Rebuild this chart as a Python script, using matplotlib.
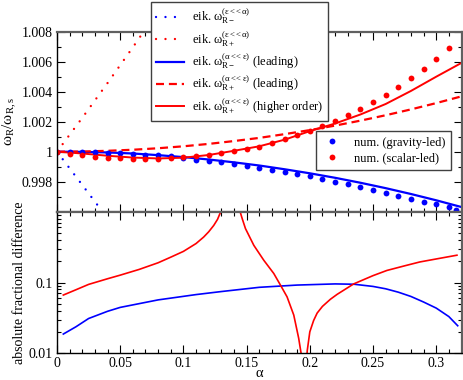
import matplotlib
matplotlib.use('Agg')
import matplotlib.pyplot as plt
from matplotlib.ticker import FixedLocator, MultipleLocator, LogLocator, NullFormatter
from matplotlib.lines import Line2D

plt.rcParams['font.family'] = ['Liberation Serif', 'DejaVu Serif']
plt.rcParams['mathtext.fontset'] = 'stix'
plt.rcParams['font.size'] = 10

# --- top panel: omega_R / omega_R,s ---
alpha_eps = [0.0, 0.02, 0.04, 0.06, 0.08]
eik_minus_eps = [1.0, 0.99778, 0.99556, 0.99334, 0.99112]
eik_plus_eps = [1.0, 1.00226, 1.00458, 1.00696, 1.0094]

alpha_line = [0.0, 0.02, 0.04, 0.06, 0.08, 0.10, 0.12, 0.14, 0.16, 0.18,
              0.20, 0.22, 0.24, 0.26, 0.28, 0.30, 0.32]
eik_minus_lead = [1.0, 0.99999, 0.99995, 0.99988, 0.99977, 0.99964, 0.99948,
                  0.99929, 0.99908, 0.99883, 0.99856, 0.99826, 0.99793,
                  0.99757, 0.99718, 0.99676, 0.99631]
eik_plus_lead = [1.0, 1.00001, 1.00006, 1.00013, 1.00023, 1.00036, 1.00052,
                 1.00071, 1.00092, 1.00117, 1.00144, 1.00174, 1.00207,
                 1.00243, 1.00282, 1.00324, 1.00369]
eik_plus_high = [1.0, 0.99988, 0.99973, 0.99961, 0.99955, 0.9996, 0.99978,
                 1.00006, 1.00036, 1.0008, 1.00137, 1.00188, 1.00248,
                 1.00318, 1.00405, 1.005, 1.00592]

alpha_num_g = [0.0, 0.01, 0.02, 0.03, 0.04, 0.05, 0.06, 0.07, 0.08, 0.09,
               0.10, 0.11, 0.12, 0.13, 0.14, 0.15, 0.16, 0.17, 0.18, 0.19,
               0.20, 0.21, 0.22, 0.23, 0.24, 0.25, 0.26, 0.27, 0.28, 0.29,
               0.30, 0.31, 0.316]
num_gravity = [1.0, 1.0, 0.99999, 0.99995, 0.99991, 0.99989, 0.99985, 0.9998,
               0.99975, 0.99969, 0.99958, 0.99947, 0.9994, 0.99929, 0.99918,
               0.99906, 0.99894, 0.9988, 0.99866, 0.99852, 0.99837, 0.9982,
               0.998, 0.99782, 0.99765, 0.99745, 0.99727, 0.99707, 0.99687,
               0.99667, 0.99649, 0.99629, 0.99611]

alpha_num_s = [0.0, 0.01, 0.02, 0.03, 0.04, 0.05, 0.06, 0.07, 0.08, 0.09,
               0.10, 0.11, 0.12, 0.13, 0.14, 0.15, 0.16, 0.17, 0.18, 0.19,
               0.20, 0.21, 0.22, 0.23, 0.24, 0.25, 0.26, 0.27, 0.28, 0.29,
               0.30, 0.31]
num_scalar = [1.0, 0.99985, 0.99978, 0.99967, 0.9996, 0.99955, 0.99953,
              0.99953, 0.99953, 0.9996, 0.99967, 0.99973, 0.9998, 0.99991,
              1.00002, 1.00015, 1.00033, 1.00058, 1.00082, 1.00109, 1.00138,
              1.0017, 1.00205, 1.00243, 1.00285, 1.00329, 1.0038, 1.00429,
              1.00489, 1.00551, 1.00618, 1.00691]

# --- bottom panel: absolute fractional difference ---
alpha_diff_g = [0.005, 0.015, 0.025, 0.04, 0.05, 0.08, 0.11, 0.13, 0.16, 0.19,
                0.22, 0.235, 0.25, 0.26, 0.27, 0.28, 0.29, 0.30, 0.31, 0.317]
diff_gravity = [0.0187, 0.0237, 0.031, 0.0392, 0.0445, 0.0568, 0.0675, 0.0745,
                0.0855, 0.092, 0.0955, 0.0945, 0.088, 0.0815, 0.073, 0.0635,
                0.053, 0.0435, 0.033, 0.0245]

alpha_diff_s1 = [0.005, 0.015, 0.025, 0.04, 0.05, 0.065, 0.08, 0.09, 0.1,
                 0.11, 0.116, 0.12, 0.124, 0.127, 0.1305]
diff_scalar1 = [0.0665, 0.079, 0.094, 0.113, 0.127, 0.153, 0.19, 0.228, 0.275,
                0.355, 0.438, 0.52, 0.64, 0.78, 1.1]
alpha_diff_s2 = [0.1445, 0.1465, 0.1491, 0.1557, 0.1636, 0.1715, 0.1768, 0.182,
                 0.1873, 0.1912, 0.1931, 0.194]
diff_scalar2 = [1.05, 0.8, 0.577, 0.335, 0.206, 0.134, 0.0917, 0.0627, 0.0347,
                0.0163, 0.01, 0.006]
alpha_diff_s3 = [0.1965, 0.198, 0.2, 0.203, 0.2058, 0.21, 0.2163, 0.2216,
                 0.2347, 0.25, 0.261, 0.275, 0.287, 0.30, 0.3164]
diff_scalar3 = [0.005, 0.011, 0.0201, 0.029, 0.037, 0.046, 0.058, 0.068,
                0.0955, 0.125, 0.148, 0.172, 0.195, 0.215, 0.243]

xticks = [0, 0.05, 0.1, 0.15, 0.2, 0.25, 0.3]
xticklabels = ['0', '0.05', '0.1', '0.15', '0.2', '0.25', '0.3']
yticks_top = [0.998, 1.0, 1.002, 1.004, 1.006, 1.008]
yticklabels_top = ['0.998', '1', '1.002', '1.004', '1.006', '1.008']

W, H = 463, 380
fig = plt.figure(figsize=(W / 100, H / 100), dpi=100)
left, right = 57 / W, 461.5 / W
ax1 = fig.add_axes([left, 1 - 211.7 / H, right - left, 180 / H])
ax2 = fig.add_axes([left, 1 - 353.3 / H, right - left, 141.6 / H])

dots = (0, (0.01, 4.0))
ax1.plot(alpha_eps, eik_minus_eps, color='#0000ff', lw=1.7, linestyle=dots,
         dash_capstyle='round')
ax1.plot(alpha_eps, eik_plus_eps, color='#ff0000', lw=1.7, linestyle=dots,
         dash_capstyle='round')
ax1.plot(alpha_line, eik_minus_lead, color='#0000ff', lw=1.6)
ax1.plot(alpha_line, eik_plus_lead, color='#ff0000', lw=1.6, dashes=(3.6, 2.2))
ax1.plot(alpha_line, eik_plus_high, color='#ff0000', lw=1.4)
ax1.plot(alpha_num_g, num_gravity, 'o', color='#0000ff', ms=4.2, mew=0)
ax1.plot(alpha_num_s, num_scalar, 'o', color='#ff0000', ms=4.2, mew=0)

ax1.set_xlim(0, 0.32)
ax1.set_ylim(0.996, 1.008)
ax1.xaxis.set_major_locator(FixedLocator(xticks))
ax1.xaxis.set_minor_locator(MultipleLocator(0.01))
ax1.set_xticklabels([])
ax1.yaxis.set_major_locator(FixedLocator(yticks_top))
ax1.yaxis.set_minor_locator(MultipleLocator(0.001))
ax1.set_yticklabels(yticklabels_top)
ax1.set_ylabel(r'$\mathregular{\omega_R/\omega_{R,s}}$', fontsize=11, labelpad=2)

ax2.plot(alpha_diff_g, diff_gravity, color='#0000ff', lw=1.2)
ax2.plot(alpha_diff_s1, diff_scalar1, color='#ff0000', lw=1.2)
ax2.plot(alpha_diff_s2, diff_scalar2, color='#ff0000', lw=1.2)
ax2.plot(alpha_diff_s3, diff_scalar3, color='#ff0000', lw=1.2)
ax2.set_yscale('log')
ax2.set_xlim(0, 0.32)
ax2.set_ylim(0.01, 1)
ax2.xaxis.set_major_locator(FixedLocator(xticks))
ax2.xaxis.set_minor_locator(MultipleLocator(0.01))
ax2.set_xticklabels(xticklabels)
ax2.yaxis.set_major_locator(FixedLocator([0.01, 0.1]))
ax2.set_yticklabels(['0.01', '0.1'])
ax2.yaxis.set_minor_locator(LogLocator(base=10, subs=range(2, 10)))
ax2.yaxis.set_minor_formatter(NullFormatter())
ax2.set_xlabel('\u03b1', fontsize=10.5)
ax2.xaxis.set_label_coords(0.5, -0.1)
ax2.set_ylabel('absolute fractional difference', fontsize=10, labelpad=2)

for ax in (ax1, ax2):
    ax.tick_params(which='both', direction='in', top=True, right=True,
                   labelsize=10, pad=3)
    ax.tick_params(which='major', length=5.5, width=0.8)
    ax.tick_params(which='minor', length=3, width=0.8)
    for s in ('left', 'bottom'):
        ax.spines[s].set_linewidth(1.0)
        ax.spines[s].set_color('black')
    for s in ('top', 'right'):
        ax.spines[s].set_linewidth(1.6)
        ax.spines[s].set_color('#606060')
ax1.spines['bottom'].set_linewidth(1.6)
ax1.spines['bottom'].set_color('#606060')

h1 = [
    Line2D([], [], color='#0000ff', lw=1.7, linestyle=dots, dash_capstyle='round'),
    Line2D([], [], color='#ff0000', lw=1.7, linestyle=dots, dash_capstyle='round'),
    Line2D([], [], color='#0000ff', lw=1.6),
    Line2D([], [], color='#ff0000', lw=1.6, dashes=(3.6, 2.2)),
    Line2D([], [], color='#ff0000', lw=1.4),
]
l1 = [
    r'eik. $\mathregular{\omega_{R-}^{(\varepsilon<\!\!<\alpha)}}$',
    r'eik. $\mathregular{\omega_{R+}^{(\varepsilon<\!\!<\alpha)}}$',
    r'eik. $\mathregular{\omega_{R-}^{(\alpha<\!\!<\varepsilon)}}$ (leading)',
    r'eik. $\mathregular{\omega_{R+}^{(\alpha<\!\!<\varepsilon)}}$ (leading)',
    r'eik. $\mathregular{\omega_{R+}^{(\alpha<\!\!<\varepsilon)}}$ (higher order)',
]
leg1 = fig.legend(h1, l1, loc='upper left', bbox_to_anchor=(150.7 / W, 1 - 1.7 / H),
                  borderaxespad=0, fancybox=False, framealpha=1, fontsize=9,
                  handlelength=2.3, handletextpad=0.6, labelspacing=0.22,
                  borderpad=0.4)
leg1.get_frame().set_edgecolor('#404040')
leg1.get_frame().set_linewidth(1.0)

h2 = [Line2D([], [], color='#0000ff', marker='o', ls='none', ms=4.2, mew=0),
      Line2D([], [], color='#ff0000', marker='o', ls='none', ms=4.2, mew=0)]
l2 = ['num. (gravity-led)', 'num. (scalar-led)']
leg2 = ax1.legend(h2, l2, loc='upper left', bbox_to_anchor=(316 / W, 1 - 131 / H),
                  bbox_transform=fig.transFigure, borderaxespad=0, fancybox=False,
                  framealpha=1, fontsize=9, handlelength=1.6, handletextpad=1.0,
                  labelspacing=0.3, borderpad=0.45)
leg2.get_frame().set_edgecolor('#404040')
leg2.get_frame().set_linewidth(1.0)

fig.savefig('out.png', dpi=100)
